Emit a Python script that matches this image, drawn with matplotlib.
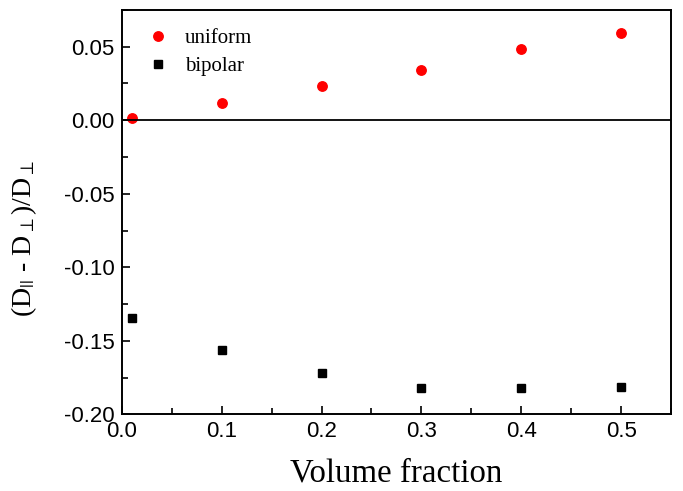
import numpy as np
import matplotlib
matplotlib.use('Agg')
import matplotlib.pyplot as plt
from matplotlib.ticker import MultipleLocator

# values
fraction = [0.01, 0.1, 0.2, 0.3, 0.4, 0.5]
uniform = [0.0014, 0.0114, 0.0231, 0.034, 0.0483, 0.059]
bipolar = [-0.1345, -0.156, -0.172, -0.182, -0.182, -0.1814]

plt.rcParams['mathtext.fontset'] = 'stix'
plt.rcParams['font.family'] = 'Liberation Sans'

fig = plt.figure(figsize=(6.83, 4.91), dpi=100)
ax = fig.add_axes([0.178, 0.156, 0.805, 0.824])

ax.plot(fraction, uniform, 'o', color='#ff0000', markersize=6.8, label='uniform')
ax.plot(fraction, bipolar, 's', color='black', markersize=5.6, label='bipolar')
ax.axhline(0, color='black', linewidth=1.3)

ax.set_xlim(0, 0.55)
ax.set_ylim(-0.20, 0.075)
ax.xaxis.set_minor_locator(MultipleLocator(0.05))
ax.yaxis.set_minor_locator(MultipleLocator(0.025))
ax.set_xticks([0, 0.1, 0.2, 0.3, 0.4, 0.5])
ax.set_xticklabels(['0.0', '0.1', '0.2', '0.3', '0.4', '0.5'])
ax.set_yticks([-0.2, -0.15, -0.1, -0.05, 0, 0.05])
ax.set_yticklabels(['-0.20', '-0.15', '-0.10', '-0.05', '0.00', '0.05'])
ax.tick_params(which='both', direction='in', labelsize=16, width=1.2)
ax.tick_params(which='major', length=6, pad=5)
ax.tick_params(which='minor', length=4)
for s in ax.spines.values():
    s.set_linewidth(1.4)

ax.set_xlabel('Volume fraction', family='Liberation Serif', fontsize=23.7, labelpad=11)
ax.set_ylabel(r'(D$_{||}$ - D$_{\perp}$)/D$_{\perp}$', family='Liberation Serif', fontsize=20)
ax.yaxis.set_label_coords(-0.15, 0.435)

ax.legend(loc='upper left', frameon=False, prop={'family': 'Liberation Serif', 'size': 15},
          handletextpad=0.26, borderaxespad=0.5, labelspacing=0.4, bbox_to_anchor=(-0.005, 1.0))

fig.savefig('out.png', dpi=100)
